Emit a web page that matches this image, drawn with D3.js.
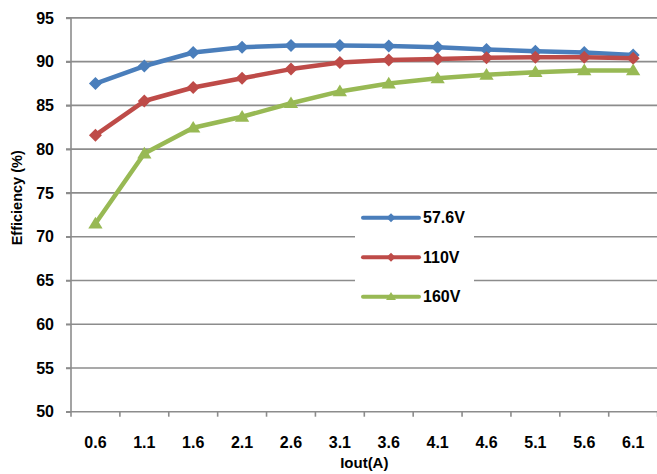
<!DOCTYPE html>
<html>
<head>
<meta charset="utf-8">
<script src="https://cdn.jsdelivr.net/npm/d3@7"></script>
<style>
  html, body { margin: 0; padding: 0; background: #fff; }
  svg { display: block; }
  text { font-family: "Liberation Sans", Arial, sans-serif; font-weight: bold; fill: #000; }
</style>
</head>
<body>
<script>
const categories = ["0.6","1.1","1.6","2.1","2.6","3.1","3.6","4.1","4.6","5.1","5.6","6.1"];
const v576 = [87.5, 89.5, 91.05, 91.65, 91.85, 91.85, 91.8, 91.65, 91.4, 91.2, 91.05, 90.75];
const v110 = [81.6, 85.5, 87.05, 88.1, 89.15, 89.9, 90.2, 90.3, 90.45, 90.5, 90.5, 90.4];
const v160 = [71.5, 79.5, 82.45, 83.7, 85.25, 86.6, 87.5, 88.1, 88.5, 88.8, 89.0, 89.0];
const seriesNames = ["57.6V", "110V", "160V"];
const seriesColors = ["#4a7ebb", "#be4b48", "#98b954"];
const seriesMarkers = ["diamond", "diamond", "triangle"];
const yTicks = [50, 55, 60, 65, 70, 75, 80, 85, 90, 95];
const yTitle = "Efficiency (%)";
const xTitle = "Iout(A)";

const W = 657, H = 474;
const svg = d3.select("body").append("svg").attr("width", W).attr("height", H);

const x = d3.scaleBand().domain(categories).range([71, 657.6]).padding(0);
const y = d3.scaleLinear().domain([50, 95]).range([411.7, 17.9]);
const cx = d => x(d) + x.bandwidth() / 2;

const gridColor = "#8c8c8c";

// gridlines
svg.append("g").selectAll("line").data(yTicks).join("line")
  .attr("x1", 66).attr("x2", W).attr("y1", d => y(d)).attr("y2", d => y(d))
  .attr("stroke", gridColor).attr("stroke-width", 1.6);

// y axis
const yAxis = svg.append("g").attr("transform", "translate(71,0)")
  .call(d3.axisLeft(y).tickValues(yTicks).tickSize(5).tickPadding(12).tickFormat(d3.format("d")));
yAxis.select(".domain").attr("stroke", gridColor).attr("stroke-width", 1.6).attr("d", `M0,${y(95)}V${y(50)}`);
yAxis.selectAll(".tick line").attr("stroke", gridColor).attr("stroke-width", 1.6);
yAxis.selectAll(".tick text").attr("font-size", 16).attr("font-family", "Liberation Sans, Arial, sans-serif").attr("font-weight", "bold").attr("fill", "#000");

// x axis
const xAxis = svg.append("g").attr("transform", `translate(0,${y(50)})`)
  .call(d3.axisBottom(x).tickSize(0).tickPadding(25));
xAxis.select(".domain").remove();
xAxis.selectAll(".tick text").attr("font-size", 16).attr("font-family", "Liberation Sans, Arial, sans-serif").attr("font-weight", "bold").attr("fill", "#000");
// band boundary tick marks
const bounds = categories.map(c => x(c)).concat([x(categories[categories.length-1]) + x.bandwidth()]);
xAxis.append("g").selectAll("line").data(bounds).join("line")
  .attr("x1", d => d).attr("x2", d => d).attr("y1", 0).attr("y2", 5)
  .attr("stroke", gridColor).attr("stroke-width", 1.6);

// axis titles
svg.append("text").attr("transform", `translate(22,${(y(95)+y(50))/2 - 17}) rotate(-90)`)
  .attr("text-anchor", "middle")
  .style("font-family", "'Liberation Sans Narrow', 'Liberation Sans', Arial, sans-serif")
  .attr("font-size", 14.5).text(yTitle);
svg.append("text").attr("x", (71 + 657.6) / 2).attr("y", 468)
  .attr("text-anchor", "middle").attr("font-size", 15).text(xTitle);

// marker paths
function markerPath(type, s) {
  if (type === "diamond") return `M0,${-s}L${s},0L0,${s}L${-s},0Z`;
  return `M0,${-s*1.05}L${s*1.1},${s*0.75}L${-s*1.1},${s*0.75}Z`;
}

const allSeries = [v576, v110, v160];
const line = d3.line().x((d, i) => cx(categories[i])).y(d => y(d));

allSeries.forEach((vals, si) => {
  const g = svg.append("g");
  g.append("path").datum(vals).attr("d", line)
    .attr("fill", "none").attr("stroke", seriesColors[si]).attr("stroke-width", 4.5)
    .attr("stroke-linejoin", "round").attr("stroke-linecap", "round");
  g.selectAll("path.m").data(vals).join("path").attr("class", "m")
    .attr("transform", (d, i) => `translate(${cx(categories[i])},${y(d)})`)
    .attr("d", markerPath(seriesMarkers[si], 6.5))
    .attr("fill", seriesColors[si]);
});

// legend
const lg = svg.append("g");
lg.append("rect").attr("x", 355).attr("y", 197).attr("width", 119).attr("height", 121).attr("fill", "#fff");
const legY = [217.7, 257.3, 296.7];
seriesNames.forEach((name, si) => {
  const row = lg.append("g").attr("transform", `translate(0,${legY[si]})`);
  row.append("line").attr("x1", 363).attr("x2", 419).attr("y1", 0).attr("y2", 0)
    .attr("stroke", seriesColors[si]).attr("stroke-width", 4).attr("stroke-linecap", "round");
  row.append("path").attr("transform", "translate(391,0)")
    .attr("d", markerPath(seriesMarkers[si], 4.5)).attr("fill", seriesColors[si]);
  row.append("text").attr("x", 423).attr("y", 0).attr("dy", "0.36em")
    .attr("font-size", 16).text(name);
});
</script>
</body>
</html>
